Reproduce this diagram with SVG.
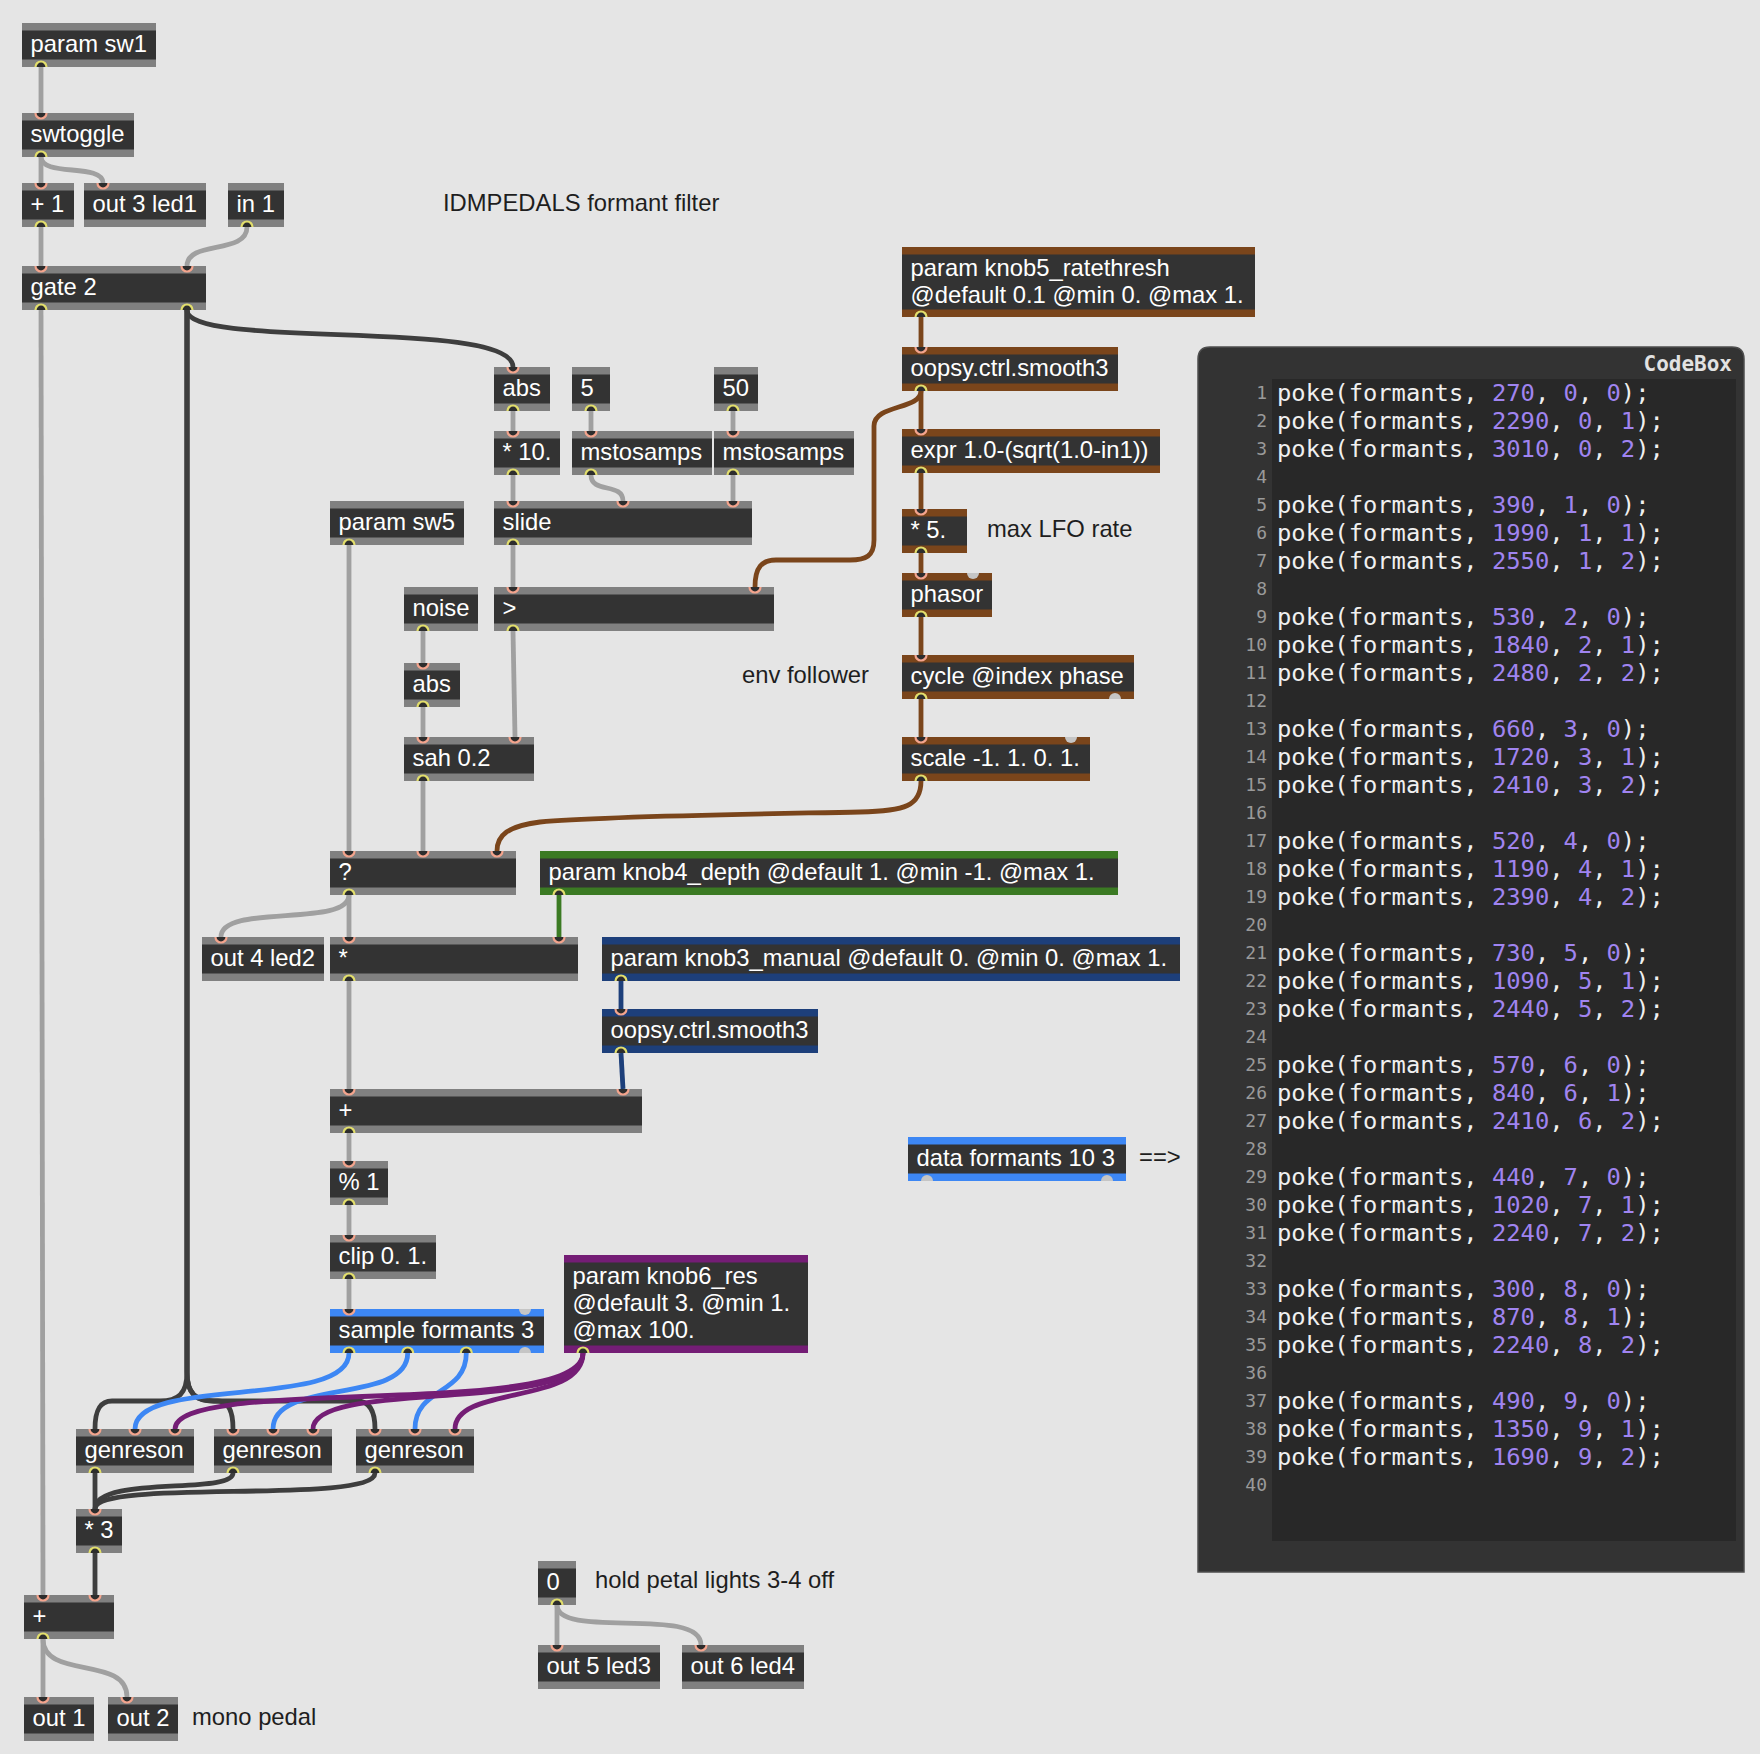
<svg xmlns="http://www.w3.org/2000/svg" width="1760" height="1754" viewBox="0 0 1760 1754">
<style>
.bar{fill:#808080}
.brn{fill:#7a451b}
.grn{fill:#3b7a23}
.dbl{fill:#1d3f7a}
.lbl{fill:#3d87f4}
.pur{fill:#741d75}
.body{fill:#333333}
.t{font-family:"Liberation Sans",Arial,sans-serif;font-size:23.8px;fill:#ffffff}
.cm{font-family:"Liberation Sans",Arial,sans-serif;font-size:23.8px;fill:#1e1e1e}
.pi{fill:#2d2d2d;stroke:#f3a48d;stroke-width:2.2}
.po{fill:#2d2d2d;stroke:#e2de6c;stroke-width:2.2}
.pg{fill:#c5c5c5}
.c{fill:none;stroke-width:4.8;stroke-linecap:butt}
.cg{stroke:#a0a0a0}
.cs{stroke:#3e3e3e}
.cbr{stroke:#7a451b}
.cgr{stroke:#3b7a23}
.cdb{stroke:#1d3f7a}
.clb{stroke:#3d87f4}
.cpu{stroke:#741d75}
.code{font-family:"DejaVu Sans Mono",monospace;font-size:23.8px;fill:#f0f0f0}
.n{fill:#a084f0}
.ln{font-family:"DejaVu Sans Mono",monospace;font-size:18px;fill:#9a9a9a;text-anchor:end}
</style>
<rect x="0" y="0" width="1760" height="1754" fill="#e5e5e5"/>

<g id="nodes">
<g id="n-param-sw1"><rect class="bar" x="22" y="23" width="134" height="44"/><rect class="body" x="22" y="30.5" width="134" height="29"/><text class="t" x="30.5" y="52">param sw1</text><path class="po" d="M35.5 67A5.5 5.5 0 0 1 46.5 67"/></g>
<g id="n-swtoggle"><rect class="bar" x="22" y="113" width="112" height="44"/><rect class="body" x="22" y="120.5" width="112" height="29"/><text class="t" x="30.5" y="142">swtoggle</text><path class="pi" d="M35.5 113A5.5 5.5 0 0 0 46.5 113"/><path class="po" d="M35.5 157A5.5 5.5 0 0 1 46.5 157"/></g>
<g id="n-plus1"><rect class="bar" x="22" y="183" width="52" height="44"/><rect class="body" x="22" y="190.5" width="52" height="29"/><text class="t" x="30.5" y="212">+ 1</text><path class="pi" d="M35.5 183A5.5 5.5 0 0 0 46.5 183"/><path class="po" d="M35.5 227A5.5 5.5 0 0 1 46.5 227"/></g>
<g id="n-out3"><rect class="bar" x="84" y="183" width="122" height="44"/><rect class="body" x="84" y="190.5" width="122" height="29"/><text class="t" x="92.5" y="212">out 3 led1</text><path class="pi" d="M97.5 183A5.5 5.5 0 0 0 108.5 183"/></g>
<g id="n-in1"><rect class="bar" x="228" y="183" width="56" height="44"/><rect class="body" x="228" y="190.5" width="56" height="29"/><text class="t" x="236.5" y="212">in 1</text><path class="po" d="M241.5 227A5.5 5.5 0 0 1 252.5 227"/></g>
<g id="n-gate2"><rect class="bar" x="22" y="266" width="184" height="44"/><rect class="body" x="22" y="273.5" width="184" height="29"/><text class="t" x="30.5" y="295">gate 2</text><path class="pi" d="M35.5 266A5.5 5.5 0 0 0 46.5 266"/><path class="pi" d="M181.5 266A5.5 5.5 0 0 0 192.5 266"/><path class="po" d="M35.5 310A5.5 5.5 0 0 1 46.5 310"/><path class="po" d="M181.5 310A5.5 5.5 0 0 1 192.5 310"/></g>
<g id="n-abs1"><rect class="bar" x="494" y="367" width="56" height="44"/><rect class="body" x="494" y="374.5" width="56" height="29"/><text class="t" x="502.5" y="396">abs</text><path class="pi" d="M507.5 367A5.5 5.5 0 0 0 518.5 367"/><path class="po" d="M507.5 411A5.5 5.5 0 0 1 518.5 411"/></g>
<g id="n-five"><rect class="bar" x="572" y="367" width="38" height="44"/><rect class="body" x="572" y="374.5" width="38" height="29"/><text class="t" x="580.5" y="396">5</text><path class="po" d="M585.5 411A5.5 5.5 0 0 1 596.5 411"/></g>
<g id="n-fifty"><rect class="bar" x="714" y="367" width="44" height="44"/><rect class="body" x="714" y="374.5" width="44" height="29"/><text class="t" x="722.5" y="396">50</text><path class="po" d="M727.5 411A5.5 5.5 0 0 1 738.5 411"/></g>
<g id="n-mul10"><rect class="bar" x="494" y="431" width="66" height="44"/><rect class="body" x="494" y="438.5" width="66" height="29"/><text class="t" x="502.5" y="460">* 10.</text><path class="pi" d="M507.5 431A5.5 5.5 0 0 0 518.5 431"/><path class="po" d="M507.5 475A5.5 5.5 0 0 1 518.5 475"/></g>
<g id="n-mstosamps1"><rect class="bar" x="572" y="431" width="140" height="44"/><rect class="body" x="572" y="438.5" width="140" height="29"/><text class="t" x="580.5" y="460">mstosamps</text><path class="pi" d="M585.5 431A5.5 5.5 0 0 0 596.5 431"/><path class="po" d="M585.5 475A5.5 5.5 0 0 1 596.5 475"/></g>
<g id="n-mstosamps2"><rect class="bar" x="714" y="431" width="140" height="44"/><rect class="body" x="714" y="438.5" width="140" height="29"/><text class="t" x="722.5" y="460">mstosamps</text><path class="pi" d="M727.5 431A5.5 5.5 0 0 0 738.5 431"/><path class="po" d="M727.5 475A5.5 5.5 0 0 1 738.5 475"/></g>
<g id="n-param-sw5"><rect class="bar" x="330" y="501" width="134" height="44"/><rect class="body" x="330" y="508.5" width="134" height="29"/><text class="t" x="338.5" y="530">param sw5</text><path class="po" d="M343.5 545A5.5 5.5 0 0 1 354.5 545"/></g>
<g id="n-slide"><rect class="bar" x="494" y="501" width="258" height="44"/><rect class="body" x="494" y="508.5" width="258" height="29"/><text class="t" x="502.5" y="530">slide</text><path class="pi" d="M507.5 501A5.5 5.5 0 0 0 518.5 501"/><path class="pi" d="M617.5 501A5.5 5.5 0 0 0 628.5 501"/><path class="pi" d="M727.5 501A5.5 5.5 0 0 0 738.5 501"/><path class="po" d="M507.5 545A5.5 5.5 0 0 1 518.5 545"/></g>
<g id="n-noise"><rect class="bar" x="404" y="587" width="74" height="44"/><rect class="body" x="404" y="594.5" width="74" height="29"/><text class="t" x="412.5" y="616">noise</text><path class="po" d="M417.5 631A5.5 5.5 0 0 1 428.5 631"/></g>
<g id="n-gt"><rect class="bar" x="494" y="587" width="280" height="44"/><rect class="body" x="494" y="594.5" width="280" height="29"/><text class="t" x="502.5" y="616">&gt;</text><path class="pi" d="M507.5 587A5.5 5.5 0 0 0 518.5 587"/><path class="pi" d="M749.5 587A5.5 5.5 0 0 0 760.5 587"/><path class="po" d="M507.5 631A5.5 5.5 0 0 1 518.5 631"/></g>
<g id="n-abs2"><rect class="bar" x="404" y="663" width="56" height="44"/><rect class="body" x="404" y="670.5" width="56" height="29"/><text class="t" x="412.5" y="692">abs</text><path class="pi" d="M417.5 663A5.5 5.5 0 0 0 428.5 663"/><path class="po" d="M417.5 707A5.5 5.5 0 0 1 428.5 707"/></g>
<g id="n-sah"><rect class="bar" x="404" y="737" width="130" height="44"/><rect class="body" x="404" y="744.5" width="130" height="29"/><text class="t" x="412.5" y="766">sah 0.2</text><path class="pi" d="M417.5 737A5.5 5.5 0 0 0 428.5 737"/><path class="pi" d="M509.5 737A5.5 5.5 0 0 0 520.5 737"/><path class="po" d="M417.5 781A5.5 5.5 0 0 1 428.5 781"/></g>
<g id="n-switch"><rect class="bar" x="330" y="851" width="186" height="44"/><rect class="body" x="330" y="858.5" width="186" height="29"/><text class="t" x="338.5" y="880">?</text><path class="pi" d="M343.5 851A5.5 5.5 0 0 0 354.5 851"/><path class="pi" d="M417.5 851A5.5 5.5 0 0 0 428.5 851"/><path class="pi" d="M491.5 851A5.5 5.5 0 0 0 502.5 851"/><path class="po" d="M343.5 895A5.5 5.5 0 0 1 354.5 895"/></g>
<g id="n-knob4"><rect class="grn" x="540" y="851" width="578" height="44"/><rect class="body" x="540" y="858.5" width="578" height="29"/><text class="t" x="548.5" y="880">param knob4_depth @default 1. @min -1. @max 1.</text><path class="po" d="M553.5 895A5.5 5.5 0 0 1 564.5 895"/></g>
<g id="n-out4"><rect class="bar" x="202" y="937" width="122" height="44"/><rect class="body" x="202" y="944.5" width="122" height="29"/><text class="t" x="210.5" y="966">out 4 led2</text><path class="pi" d="M215.5 937A5.5 5.5 0 0 0 226.5 937"/></g>
<g id="n-mul"><rect class="bar" x="330" y="937" width="248" height="44"/><rect class="body" x="330" y="944.5" width="248" height="29"/><text class="t" x="338.5" y="966">*</text><path class="pi" d="M343.5 937A5.5 5.5 0 0 0 354.5 937"/><path class="pi" d="M553.5 937A5.5 5.5 0 0 0 564.5 937"/><path class="po" d="M343.5 981A5.5 5.5 0 0 1 354.5 981"/></g>
<g id="n-knob3"><rect class="dbl" x="602" y="937" width="578" height="44"/><rect class="body" x="602" y="944.5" width="578" height="29"/><text class="t" x="610.5" y="966">param knob3_manual @default 0. @min 0. @max 1.</text><path class="po" d="M615.5 981A5.5 5.5 0 0 1 626.5 981"/></g>
<g id="n-smooth-blue"><rect class="dbl" x="602" y="1009" width="216" height="44"/><rect class="body" x="602" y="1016.5" width="216" height="29"/><text class="t" x="610.5" y="1038">oopsy.ctrl.smooth3</text><path class="pi" d="M615.5 1009A5.5 5.5 0 0 0 626.5 1009"/><path class="po" d="M615.5 1053A5.5 5.5 0 0 1 626.5 1053"/></g>
<g id="n-add"><rect class="bar" x="330" y="1089" width="312" height="44"/><rect class="body" x="330" y="1096.5" width="312" height="29"/><text class="t" x="338.5" y="1118">+</text><path class="pi" d="M343.5 1089A5.5 5.5 0 0 0 354.5 1089"/><path class="pi" d="M617.5 1089A5.5 5.5 0 0 0 628.5 1089"/><path class="po" d="M343.5 1133A5.5 5.5 0 0 1 354.5 1133"/></g>
<g id="n-mod"><rect class="bar" x="330" y="1161" width="58" height="44"/><rect class="body" x="330" y="1168.5" width="58" height="29"/><text class="t" x="338.5" y="1190">% 1</text><path class="pi" d="M343.5 1161A5.5 5.5 0 0 0 354.5 1161"/><path class="po" d="M343.5 1205A5.5 5.5 0 0 1 354.5 1205"/></g>
<g id="n-clip"><rect class="bar" x="330" y="1235" width="106" height="44"/><rect class="body" x="330" y="1242.5" width="106" height="29"/><text class="t" x="338.5" y="1264">clip 0. 1.</text><path class="pi" d="M343.5 1235A5.5 5.5 0 0 0 354.5 1235"/><path class="po" d="M343.5 1279A5.5 5.5 0 0 1 354.5 1279"/></g>
<g id="n-sample"><rect class="lbl" x="330" y="1309" width="214" height="44"/><rect class="body" x="330" y="1316.5" width="214" height="29"/><text class="t" x="338.5" y="1338">sample formants 3</text><path class="pi" d="M343.5 1309A5.5 5.5 0 0 0 354.5 1309"/><path class="pg" d="M519 1309A6 6 0 0 0 531 1309Z"/><path class="po" d="M343.5 1353A5.5 5.5 0 0 1 354.5 1353"/><path class="po" d="M402.2 1353A5.5 5.5 0 0 1 413.2 1353"/><path class="po" d="M460.8 1353A5.5 5.5 0 0 1 471.8 1353"/><path class="pg" d="M519 1353A6 6 0 0 1 531 1353Z"/></g>
<g id="n-knob6"><rect class="pur" x="564" y="1255" width="244" height="98"/><rect class="body" x="564" y="1262.5" width="244" height="83"/><text class="t" x="572.5" y="1284">param knob6_res</text><text class="t" x="572.5" y="1311">@default 3. @min 1.</text><text class="t" x="572.5" y="1338">@max 100.</text><path class="po" d="M577.5 1353A5.5 5.5 0 0 1 588.5 1353"/></g>
<g id="n-genreson1"><rect class="bar" x="76" y="1429" width="118" height="44"/><rect class="body" x="76" y="1436.5" width="118" height="29"/><text class="t" x="84.5" y="1458">genreson</text><path class="pi" d="M89.5 1429A5.5 5.5 0 0 0 100.5 1429"/><path class="pi" d="M129.5 1429A5.5 5.5 0 0 0 140.5 1429"/><path class="pi" d="M169.5 1429A5.5 5.5 0 0 0 180.5 1429"/><path class="po" d="M89.5 1473A5.5 5.5 0 0 1 100.5 1473"/></g>
<g id="n-genreson2"><rect class="bar" x="214" y="1429" width="118" height="44"/><rect class="body" x="214" y="1436.5" width="118" height="29"/><text class="t" x="222.5" y="1458">genreson</text><path class="pi" d="M227.5 1429A5.5 5.5 0 0 0 238.5 1429"/><path class="pi" d="M267.5 1429A5.5 5.5 0 0 0 278.5 1429"/><path class="pi" d="M307.5 1429A5.5 5.5 0 0 0 318.5 1429"/><path class="po" d="M227.5 1473A5.5 5.5 0 0 1 238.5 1473"/></g>
<g id="n-genreson3"><rect class="bar" x="356" y="1429" width="118" height="44"/><rect class="body" x="356" y="1436.5" width="118" height="29"/><text class="t" x="364.5" y="1458">genreson</text><path class="pi" d="M369.5 1429A5.5 5.5 0 0 0 380.5 1429"/><path class="pi" d="M409.5 1429A5.5 5.5 0 0 0 420.5 1429"/><path class="pi" d="M449.5 1429A5.5 5.5 0 0 0 460.5 1429"/><path class="po" d="M369.5 1473A5.5 5.5 0 0 1 380.5 1473"/></g>
<g id="n-mul3"><rect class="bar" x="76" y="1509" width="46" height="44"/><rect class="body" x="76" y="1516.5" width="46" height="29"/><text class="t" x="84.5" y="1538">* 3</text><path class="pi" d="M89.5 1509A5.5 5.5 0 0 0 100.5 1509"/><path class="po" d="M89.5 1553A5.5 5.5 0 0 1 100.5 1553"/></g>
<g id="n-sum"><rect class="bar" x="24" y="1595" width="90" height="44"/><rect class="body" x="24" y="1602.5" width="90" height="29"/><text class="t" x="32.5" y="1624">+</text><path class="pi" d="M37.5 1595A5.5 5.5 0 0 0 48.5 1595"/><path class="pi" d="M89.5 1595A5.5 5.5 0 0 0 100.5 1595"/><path class="po" d="M37.5 1639A5.5 5.5 0 0 1 48.5 1639"/></g>
<g id="n-out1"><rect class="bar" x="24" y="1697" width="70" height="44"/><rect class="body" x="24" y="1704.5" width="70" height="29"/><text class="t" x="32.5" y="1726">out 1</text><path class="pi" d="M37.5 1697A5.5 5.5 0 0 0 48.5 1697"/></g>
<g id="n-out2"><rect class="bar" x="108" y="1697" width="70" height="44"/><rect class="body" x="108" y="1704.5" width="70" height="29"/><text class="t" x="116.5" y="1726">out 2</text><path class="pi" d="M121.5 1697A5.5 5.5 0 0 0 132.5 1697"/></g>
<g id="n-zero"><rect class="bar" x="538" y="1561" width="38" height="44"/><rect class="body" x="538" y="1568.5" width="38" height="29"/><text class="t" x="546.5" y="1590">0</text><path class="po" d="M551.5 1605A5.5 5.5 0 0 1 562.5 1605"/></g>
<g id="n-out5"><rect class="bar" x="538" y="1645" width="122" height="44"/><rect class="body" x="538" y="1652.5" width="122" height="29"/><text class="t" x="546.5" y="1674">out 5 led3</text><path class="pi" d="M551.5 1645A5.5 5.5 0 0 0 562.5 1645"/></g>
<g id="n-out6"><rect class="bar" x="682" y="1645" width="122" height="44"/><rect class="body" x="682" y="1652.5" width="122" height="29"/><text class="t" x="690.5" y="1674">out 6 led4</text><path class="pi" d="M695.5 1645A5.5 5.5 0 0 0 706.5 1645"/></g>
<g id="n-knob5"><rect class="brn" x="902" y="247" width="353" height="70"/><rect class="body" x="902" y="254.5" width="353" height="55"/><text class="t" x="910.5" y="276">param knob5_ratethresh</text><text class="t" x="910.5" y="303">@default 0.1 @min 0. @max 1.</text><path class="po" d="M915.5 317A5.5 5.5 0 0 1 926.5 317"/></g>
<g id="n-smooth-brown"><rect class="brn" x="902" y="347" width="216" height="44"/><rect class="body" x="902" y="354.5" width="216" height="29"/><text class="t" x="910.5" y="376">oopsy.ctrl.smooth3</text><path class="pi" d="M915.5 347A5.5 5.5 0 0 0 926.5 347"/><path class="po" d="M915.5 391A5.5 5.5 0 0 1 926.5 391"/></g>
<g id="n-expr"><rect class="brn" x="902" y="429" width="258" height="44"/><rect class="body" x="902" y="436.5" width="258" height="29"/><text class="t" x="910.5" y="458">expr 1.0-(sqrt(1.0-in1))</text><path class="pi" d="M915.5 429A5.5 5.5 0 0 0 926.5 429"/><path class="po" d="M915.5 473A5.5 5.5 0 0 1 926.5 473"/></g>
<g id="n-mul5"><rect class="brn" x="902" y="509" width="65" height="44"/><rect class="body" x="902" y="516.5" width="65" height="29"/><text class="t" x="910.5" y="538">* 5.</text><path class="pi" d="M915.5 509A5.5 5.5 0 0 0 926.5 509"/><path class="po" d="M915.5 553A5.5 5.5 0 0 1 926.5 553"/></g>
<g id="n-phasor"><rect class="brn" x="902" y="573" width="90" height="44"/><rect class="body" x="902" y="580.5" width="90" height="29"/><text class="t" x="910.5" y="602">phasor</text><path class="pi" d="M915.5 573A5.5 5.5 0 0 0 926.5 573"/><path class="pg" d="M967 573A6 6 0 0 0 979 573Z"/><path class="po" d="M915.5 617A5.5 5.5 0 0 1 926.5 617"/></g>
<g id="n-cycle"><rect class="brn" x="902" y="655" width="232" height="44"/><rect class="body" x="902" y="662.5" width="232" height="29"/><text class="t" x="910.5" y="684">cycle @index phase</text><path class="pi" d="M915.5 655A5.5 5.5 0 0 0 926.5 655"/><path class="po" d="M915.5 699A5.5 5.5 0 0 1 926.5 699"/><path class="pg" d="M1109 699A6 6 0 0 1 1121 699Z"/></g>
<g id="n-scale"><rect class="brn" x="902" y="737" width="188" height="44"/><rect class="body" x="902" y="744.5" width="188" height="29"/><text class="t" x="910.5" y="766">scale -1. 1. 0. 1.</text><path class="pi" d="M915.5 737A5.5 5.5 0 0 0 926.5 737"/><path class="pg" d="M1065 737A6 6 0 0 0 1077 737Z"/><path class="po" d="M915.5 781A5.5 5.5 0 0 1 926.5 781"/></g>
<g id="n-data"><rect class="lbl" x="908" y="1137" width="218" height="44"/><rect class="body" x="908" y="1144.5" width="218" height="29"/><text class="t" x="916.5" y="1166">data formants 10 3</text><path class="pg" d="M921 1181A6 6 0 0 1 933 1181Z"/><path class="pg" d="M1101 1181A6 6 0 0 1 1113 1181Z"/></g>
</g>

<g id="comments">
<text class="cm" x="443" y="211">IDMPEDALS formant filter</text>
<text class="cm" x="987" y="537">max LFO rate</text>
<text class="cm" x="742" y="683">env follower</text>
<text class="cm" x="1139" y="1165">==&gt;</text>
<text class="cm" x="595" y="1588">hold petal lights 3-4 off</text>
<text class="cm" x="192" y="1725">mono pedal</text>
</g>

<g id="connectors">
<path class="c cg" d="M41 67V113"/>
<path class="c cg" d="M41 157V183"/>
<path class="c cg" d="M41 157C41 177 103 163 103 183"/>
<path class="c cg" d="M41 227V266"/>
<path class="c cg" d="M247 227C247 255 187 240 187 266"/>
<path class="c cg" d="M41 310L43 1595"/>
<path class="c cs" d="M187 310C187 350 513 318 513 367"/>
<path class="c cs" d="M187 310V1372C187 1394 178 1401 160 1401L112 1401C100 1401 95 1410 95 1429"/>
<path class="c cs" d="M187 310V1372C187 1394 196 1401 214 1401L218 1401C228 1401 233 1410 233 1429"/>
<path class="c cs" d="M187 310V1372C187 1394 196 1401 214 1401L357 1401C369 1401 375 1410 375 1429"/>
<path class="c cg" d="M513 411V431"/>
<path class="c cg" d="M591 411V431"/>
<path class="c cg" d="M733 411V431"/>
<path class="c cg" d="M513 475V501"/>
<path class="c cg" d="M591 475C591 494 623 482 623 501"/>
<path class="c cg" d="M733 475V501"/>
<path class="c cg" d="M513 545V587"/>
<path class="c cbr" d="M921 391C921 410 874 404 874 426L874 540C874 556 866 560 850 560L776 560C762 560 755 567 755 587"/>
<path class="c cbr" d="M921 317V347"/>
<path class="c cbr" d="M921 391V429"/>
<path class="c cbr" d="M921 473V509"/>
<path class="c cbr" d="M921 553V573"/>
<path class="c cbr" d="M921 617V655"/>
<path class="c cbr" d="M921 699V737"/>
<path class="c cbr" d="M921 781C921 806 905 811 860 812C760 814 600 816 540 822C508 826 497 835 497 851"/>
<path class="c cg" d="M349 545V851"/>
<path class="c cg" d="M423 631V663"/>
<path class="c cg" d="M423 707V737"/>
<path class="c cg" d="M513 631L515 737"/>
<path class="c cg" d="M423 781V851"/>
<path class="c cg" d="M349 895C349 928 221 903 221 937"/>
<path class="c cg" d="M349 895V937"/>
<path class="c cgr" d="M559 895V937"/>
<path class="c cg" d="M349 981V1089"/>
<path class="c cdb" d="M621 981V1009"/>
<path class="c cdb" d="M621 1053L623 1089"/>
<path class="c cg" d="M349 1133V1161"/>
<path class="c cg" d="M349 1205V1235"/>
<path class="c cg" d="M349 1279V1309"/>
<path class="c clb" d="M349 1353C349 1410 135 1375 135 1429"/>
<path class="c clb" d="M407.7 1353C407.7 1405 273 1378 273 1429"/>
<path class="c clb" d="M466.3 1353C466.3 1395 415 1387 415 1429"/>
<path class="c cpu" d="M583 1353C583 1420 175 1375 175 1429"/>
<path class="c cpu" d="M583 1353C583 1415 313 1378 313 1429"/>
<path class="c cpu" d="M583 1353C583 1405 455 1385 455 1429"/>
<path class="c cs" d="M95 1473V1509"/>
<path class="c cs" d="M233 1473C233 1495 95 1475 95 1509"/>
<path class="c cs" d="M375 1473C375 1505 95 1478 95 1509"/>
<path class="c cs" d="M95 1553V1595"/>
<path class="c cg" d="M43 1639V1697"/>
<path class="c cg" d="M43 1639C43 1680 127 1655 127 1697"/>
<path class="c cg" d="M557 1605V1645"/>
<path class="c cg" d="M557 1605C557 1640 701 1605 701 1645"/>
</g>

<g id="codebox">
<path d="M1198 359Q1198 347 1210 347H1732Q1744 347 1744 359V1572H1198Z" fill="#333333" stroke="#4e4e4e" stroke-width="1.5"/>
<rect x="1272" y="379" width="464" height="1162" fill="#282828"/>
<text x="1732" y="371" text-anchor="end" font-family="DejaVu Sans Mono, monospace" font-weight="bold" font-size="21px" fill="#e2e2e2">CodeBox</text>
<text class="ln"><tspan x="1267" y="399">1</tspan><tspan x="1267" y="427">2</tspan><tspan x="1267" y="455">3</tspan><tspan x="1267" y="483">4</tspan><tspan x="1267" y="511">5</tspan><tspan x="1267" y="539">6</tspan><tspan x="1267" y="567">7</tspan><tspan x="1267" y="595">8</tspan><tspan x="1267" y="623">9</tspan><tspan x="1267" y="651">10</tspan><tspan x="1267" y="679">11</tspan><tspan x="1267" y="707">12</tspan><tspan x="1267" y="735">13</tspan><tspan x="1267" y="763">14</tspan><tspan x="1267" y="791">15</tspan><tspan x="1267" y="819">16</tspan><tspan x="1267" y="847">17</tspan><tspan x="1267" y="875">18</tspan><tspan x="1267" y="903">19</tspan><tspan x="1267" y="931">20</tspan><tspan x="1267" y="959">21</tspan><tspan x="1267" y="987">22</tspan><tspan x="1267" y="1015">23</tspan><tspan x="1267" y="1043">24</tspan><tspan x="1267" y="1071">25</tspan><tspan x="1267" y="1099">26</tspan><tspan x="1267" y="1127">27</tspan><tspan x="1267" y="1155">28</tspan><tspan x="1267" y="1183">29</tspan><tspan x="1267" y="1211">30</tspan><tspan x="1267" y="1239">31</tspan><tspan x="1267" y="1267">32</tspan><tspan x="1267" y="1295">33</tspan><tspan x="1267" y="1323">34</tspan><tspan x="1267" y="1351">35</tspan><tspan x="1267" y="1379">36</tspan><tspan x="1267" y="1407">37</tspan><tspan x="1267" y="1435">38</tspan><tspan x="1267" y="1463">39</tspan><tspan x="1267" y="1491">40</tspan></text>
<text class="code" x="1277" y="401">poke(formants, <tspan class="n">270</tspan>, <tspan class="n">0</tspan>, <tspan class="n">0</tspan>);</text>
<text class="code" x="1277" y="429">poke(formants, <tspan class="n">2290</tspan>, <tspan class="n">0</tspan>, <tspan class="n">1</tspan>);</text>
<text class="code" x="1277" y="457">poke(formants, <tspan class="n">3010</tspan>, <tspan class="n">0</tspan>, <tspan class="n">2</tspan>);</text>
<text class="code" x="1277" y="513">poke(formants, <tspan class="n">390</tspan>, <tspan class="n">1</tspan>, <tspan class="n">0</tspan>);</text>
<text class="code" x="1277" y="541">poke(formants, <tspan class="n">1990</tspan>, <tspan class="n">1</tspan>, <tspan class="n">1</tspan>);</text>
<text class="code" x="1277" y="569">poke(formants, <tspan class="n">2550</tspan>, <tspan class="n">1</tspan>, <tspan class="n">2</tspan>);</text>
<text class="code" x="1277" y="625">poke(formants, <tspan class="n">530</tspan>, <tspan class="n">2</tspan>, <tspan class="n">0</tspan>);</text>
<text class="code" x="1277" y="653">poke(formants, <tspan class="n">1840</tspan>, <tspan class="n">2</tspan>, <tspan class="n">1</tspan>);</text>
<text class="code" x="1277" y="681">poke(formants, <tspan class="n">2480</tspan>, <tspan class="n">2</tspan>, <tspan class="n">2</tspan>);</text>
<text class="code" x="1277" y="737">poke(formants, <tspan class="n">660</tspan>, <tspan class="n">3</tspan>, <tspan class="n">0</tspan>);</text>
<text class="code" x="1277" y="765">poke(formants, <tspan class="n">1720</tspan>, <tspan class="n">3</tspan>, <tspan class="n">1</tspan>);</text>
<text class="code" x="1277" y="793">poke(formants, <tspan class="n">2410</tspan>, <tspan class="n">3</tspan>, <tspan class="n">2</tspan>);</text>
<text class="code" x="1277" y="849">poke(formants, <tspan class="n">520</tspan>, <tspan class="n">4</tspan>, <tspan class="n">0</tspan>);</text>
<text class="code" x="1277" y="877">poke(formants, <tspan class="n">1190</tspan>, <tspan class="n">4</tspan>, <tspan class="n">1</tspan>);</text>
<text class="code" x="1277" y="905">poke(formants, <tspan class="n">2390</tspan>, <tspan class="n">4</tspan>, <tspan class="n">2</tspan>);</text>
<text class="code" x="1277" y="961">poke(formants, <tspan class="n">730</tspan>, <tspan class="n">5</tspan>, <tspan class="n">0</tspan>);</text>
<text class="code" x="1277" y="989">poke(formants, <tspan class="n">1090</tspan>, <tspan class="n">5</tspan>, <tspan class="n">1</tspan>);</text>
<text class="code" x="1277" y="1017">poke(formants, <tspan class="n">2440</tspan>, <tspan class="n">5</tspan>, <tspan class="n">2</tspan>);</text>
<text class="code" x="1277" y="1073">poke(formants, <tspan class="n">570</tspan>, <tspan class="n">6</tspan>, <tspan class="n">0</tspan>);</text>
<text class="code" x="1277" y="1101">poke(formants, <tspan class="n">840</tspan>, <tspan class="n">6</tspan>, <tspan class="n">1</tspan>);</text>
<text class="code" x="1277" y="1129">poke(formants, <tspan class="n">2410</tspan>, <tspan class="n">6</tspan>, <tspan class="n">2</tspan>);</text>
<text class="code" x="1277" y="1185">poke(formants, <tspan class="n">440</tspan>, <tspan class="n">7</tspan>, <tspan class="n">0</tspan>);</text>
<text class="code" x="1277" y="1213">poke(formants, <tspan class="n">1020</tspan>, <tspan class="n">7</tspan>, <tspan class="n">1</tspan>);</text>
<text class="code" x="1277" y="1241">poke(formants, <tspan class="n">2240</tspan>, <tspan class="n">7</tspan>, <tspan class="n">2</tspan>);</text>
<text class="code" x="1277" y="1297">poke(formants, <tspan class="n">300</tspan>, <tspan class="n">8</tspan>, <tspan class="n">0</tspan>);</text>
<text class="code" x="1277" y="1325">poke(formants, <tspan class="n">870</tspan>, <tspan class="n">8</tspan>, <tspan class="n">1</tspan>);</text>
<text class="code" x="1277" y="1353">poke(formants, <tspan class="n">2240</tspan>, <tspan class="n">8</tspan>, <tspan class="n">2</tspan>);</text>
<text class="code" x="1277" y="1409">poke(formants, <tspan class="n">490</tspan>, <tspan class="n">9</tspan>, <tspan class="n">0</tspan>);</text>
<text class="code" x="1277" y="1437">poke(formants, <tspan class="n">1350</tspan>, <tspan class="n">9</tspan>, <tspan class="n">1</tspan>);</text>
<text class="code" x="1277" y="1465">poke(formants, <tspan class="n">1690</tspan>, <tspan class="n">9</tspan>, <tspan class="n">2</tspan>);</text>
</g>
</svg>
